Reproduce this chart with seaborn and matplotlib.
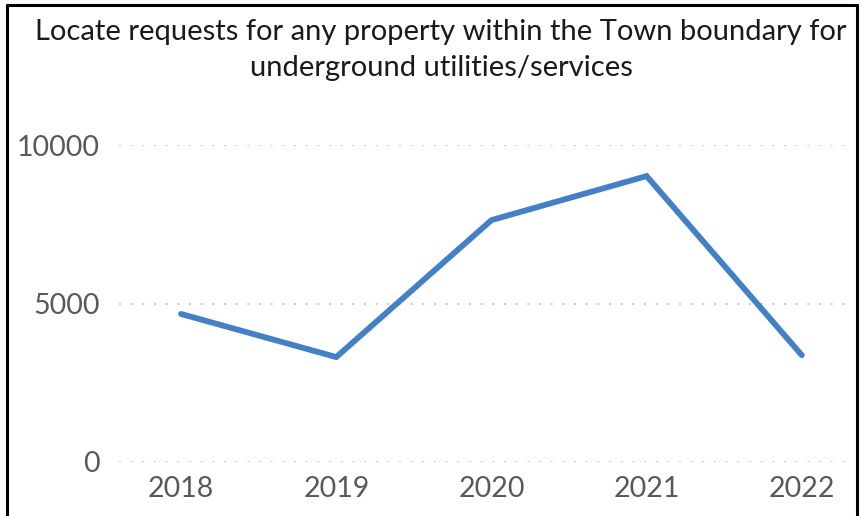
import pandas as pd
import matplotlib
matplotlib.use('Agg')
import matplotlib.pyplot as plt
import seaborn as sns
from matplotlib.lines import Line2D

# 연도별 위치 요청 건수
years = ['2018', '2019', '2020', '2021', '2022']
requests = [4670, 3310, 7630, 9020, 3370]

df = pd.DataFrame({'year': years, 'requests': requests})

sns.set_style('white')
plt.rcParams['font.family'] = ['Lato', 'DejaVu Sans']

fig = plt.figure(figsize=(8.61, 5.16), dpi=100)
ax = fig.add_axes([119 / 861, 1 - 462 / 516, (853 - 119) / 861, (462 - 145) / 516])

sns.lineplot(data=df, x='year', y='requests', ax=ax,
             color='#4380C5', lw=4.2, sort=False, clip_on=False)
for ln in ax.lines:
    ln.set_solid_capstyle('round')
    ln.set_solid_joinstyle('miter')

ax.set_ylim(0, 10000)
ax.set_xlim(-0.40, 4.33)
ax.set_yticks([0, 5000, 10000])
ax.yaxis.grid(True, color='#C8C8C8', lw=1.4, linestyle=(0, (1, 5)))
ax.set_axisbelow(True)
for s in ax.spines.values():
    s.set_visible(False)
ax.tick_params(axis='both', length=0, labelsize=20.5, labelcolor='#595959')
ax.tick_params(axis='y', pad=14)
ax.tick_params(axis='x', pad=10)
ax.set_xlabel('')
ax.set_ylabel('')

fig.text(441 / 861, 1 - 50 / 516,
         'Locate requests for any property within the Town boundary for\nunderground utilities/services',
         ha='center', va='center', fontsize=21, color='#1A1A1A', linespacing=1.5)

# 바깥 테두리
fig.add_artist(Line2D([7 / 861, 7 / 861], [0, 1 - 5 / 516], color='black', lw=2.2))
fig.add_artist(Line2D([857 / 861, 857 / 861], [0, 1 - 5 / 516], color='black', lw=2.2))
fig.add_artist(Line2D([7 / 861, 857 / 861], [1 - 5 / 516, 1 - 5 / 516], color='black', lw=2.2))

fig.savefig('out.png', dpi=100)
